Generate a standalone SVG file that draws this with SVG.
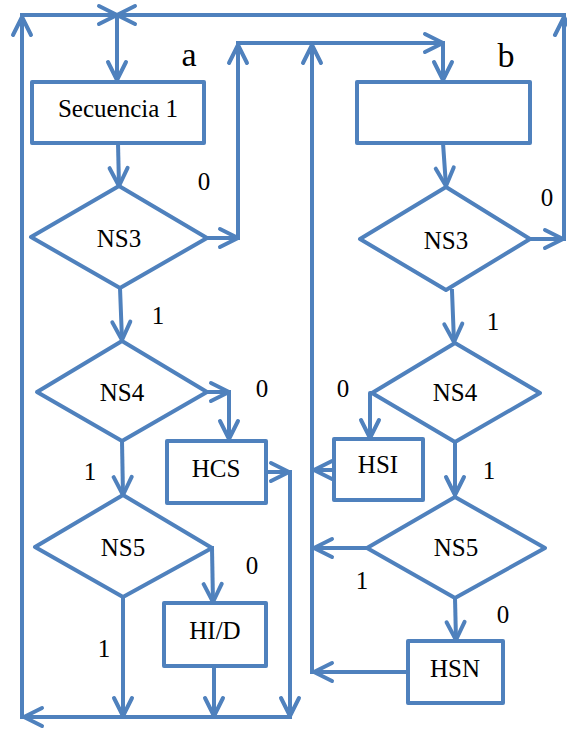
<svg xmlns="http://www.w3.org/2000/svg" width="567" height="731" viewBox="0 0 567 731">
  <style>
    .box { fill: #ffffff; stroke: #4F81BD; stroke-width: 4; stroke-linejoin: round; }
    .ln { fill: none; stroke: #4F81BD; stroke-width: 4; stroke-linecap: square; stroke-linejoin: round; }
    .arr { marker-end: url(#ah); }
    text { font-family: 'Liberation Serif', 'DejaVu Serif', serif; fill: #000000; text-anchor: middle; }
    .t { font-size: 25px; }
    .lab { font-size: 34px; }
  </style>
  <defs>
    <marker id="ah" viewBox="-22 -12 26 24" markerWidth="26" markerHeight="24" refX="0" refY="0" orient="auto" markerUnits="userSpaceOnUse">
      <path d="M-18,-9 L0,0 L-18,9" fill="none" stroke="#4F81BD" stroke-width="4" stroke-linecap="round" stroke-linejoin="round"/>
    </marker>
  </defs>
  <rect width="567" height="731" fill="#ffffff"/>

  <!-- connectors -->
  <g id="connectors">
    <!-- outer loop, left side -->
    <path class="ln arr" d="M22,717 L22,17"/>
    <path class="ln arr" d="M22,15 L117,15"/>
    <!-- outer loop, right side -->
    <path class="ln arr" d="M564,239 L564,17"/>
    <path class="ln arr" d="M564,15 L117,15"/>
    <path class="ln arr" d="M117,15 L117,80"/>
    <!-- sequence a -->
    <path class="ln arr" d="M118,143 L119,186"/>
    <path class="ln arr" d="M207,238 L238,238"/>
    <path class="ln arr" d="M238,238 L238,45"/>
    <path class="ln arr" d="M238,43 L443,43"/>
    <path class="ln arr" d="M443,43 L443,80"/>
    <path class="ln arr" d="M120,288 L122,340"/>
    <path class="ln arr" d="M207,392 L229,392"/>
    <path class="ln arr" d="M229,392 L229,439"/>
    <path class="ln arr" d="M122,441 L123,495"/>
    <path class="ln arr" d="M266,472 L289,472"/>
    <path class="ln arr" d="M290,472 L290,716"/>
    <path class="ln arr" d="M212,548 L213,602"/>
    <path class="ln arr" d="M123,597 L123,716"/>
    <path class="ln arr" d="M214,666 L214,716"/>
    <path class="ln arr" d="M290,717 L24,717"/>
    <!-- sequence b -->
    <path class="ln arr" d="M443,143 L446,186"/>
    <path class="ln arr" d="M530,239 L563,239"/>
    <path class="ln arr" d="M452,291 L454,342"/>
    <path class="ln arr" d="M312,672 L312,45"/>
    <path class="ln arr" d="M372,393 L370,393 L370,438"/>
    <path class="ln arr" d="M334,470 L314,470"/>
    <path class="ln arr" d="M455,442 L455,495"/>
    <path class="ln arr" d="M367,548 L314,548"/>
    <path class="ln arr" d="M455,598 L456,640"/>
    <path class="ln arr" d="M408,672 L314,672"/>
  </g>

  <!-- branch labels -->
  <g id="labels" font-family="'Liberation Serif', 'DejaVu Serif', serif">
    <text class="lab" x="189" y="66">a</text>
    <text class="lab" x="506" y="67">b</text>
    <text class="t" x="204" y="190">0</text>
    <text class="t" x="158" y="324">1</text>
    <text class="t" x="262" y="397">0</text>
    <text class="t" x="90" y="480">1</text>
    <text class="t" x="252" y="574">0</text>
    <text class="t" x="104" y="657">1</text>
    <text class="t" x="547" y="206">0</text>
    <text class="t" x="493" y="330">1</text>
    <text class="t" x="343" y="397">0</text>
    <text class="t" x="489" y="479">1</text>
    <text class="t" x="362" y="589">1</text>
    <text class="t" x="503" y="623">0</text>
  </g>

  <!-- nodes: sequence a -->
  <g id="secuencia1">
    <rect class="box" x="32" y="82" width="172" height="61"/>
    <text class="t" x="118" y="117">Secuencia 1</text>
  </g>
  <g id="ns3a">
    <polygon class="box" points="31,237 119,186 207,238 120,288"/>
    <text class="t" x="119" y="247">NS3</text>
  </g>
  <g id="ns4a">
    <polygon class="box" points="37,392 122,341 207,392 122,441"/>
    <text class="t" x="122" y="401">NS4</text>
  </g>
  <g id="hcs">
    <rect class="box" x="167" y="441" width="99" height="62"/>
    <text class="t" x="216" y="477">HCS</text>
  </g>
  <g id="ns5a">
    <polygon class="box" points="35,547 123,495 212,548 123,597"/>
    <text class="t" x="123" y="556">NS5</text>
  </g>
  <g id="hid">
    <rect class="box" x="164" y="603" width="102" height="63"/>
    <text class="t" x="215" y="639">HI/D</text>
  </g>

  <!-- nodes: sequence b -->
  <g id="boxb">
    <rect class="box" x="357" y="82" width="173" height="61"/>
  </g>
  <g id="ns3b">
    <polygon class="box" points="360,239 446,187 530,239 446,290"/>
    <text class="t" x="446" y="249">NS3</text>
  </g>
  <g id="ns4b">
    <polygon class="box" points="372,393 455,343 540,393 455,442"/>
    <text class="t" x="455" y="401">NS4</text>
  </g>
  <g id="hsi">
    <rect class="box" x="334" y="439" width="89" height="61"/>
    <text class="t" x="378" y="473">HSI</text>
  </g>
  <g id="ns5b">
    <polygon class="box" points="367,548 455,497 545,548 455,598"/>
    <text class="t" x="456" y="556">NS5</text>
  </g>
  <g id="hsn">
    <rect class="box" x="408" y="641" width="95" height="62"/>
    <text class="t" x="455" y="677">HSN</text>
  </g>
</svg>
